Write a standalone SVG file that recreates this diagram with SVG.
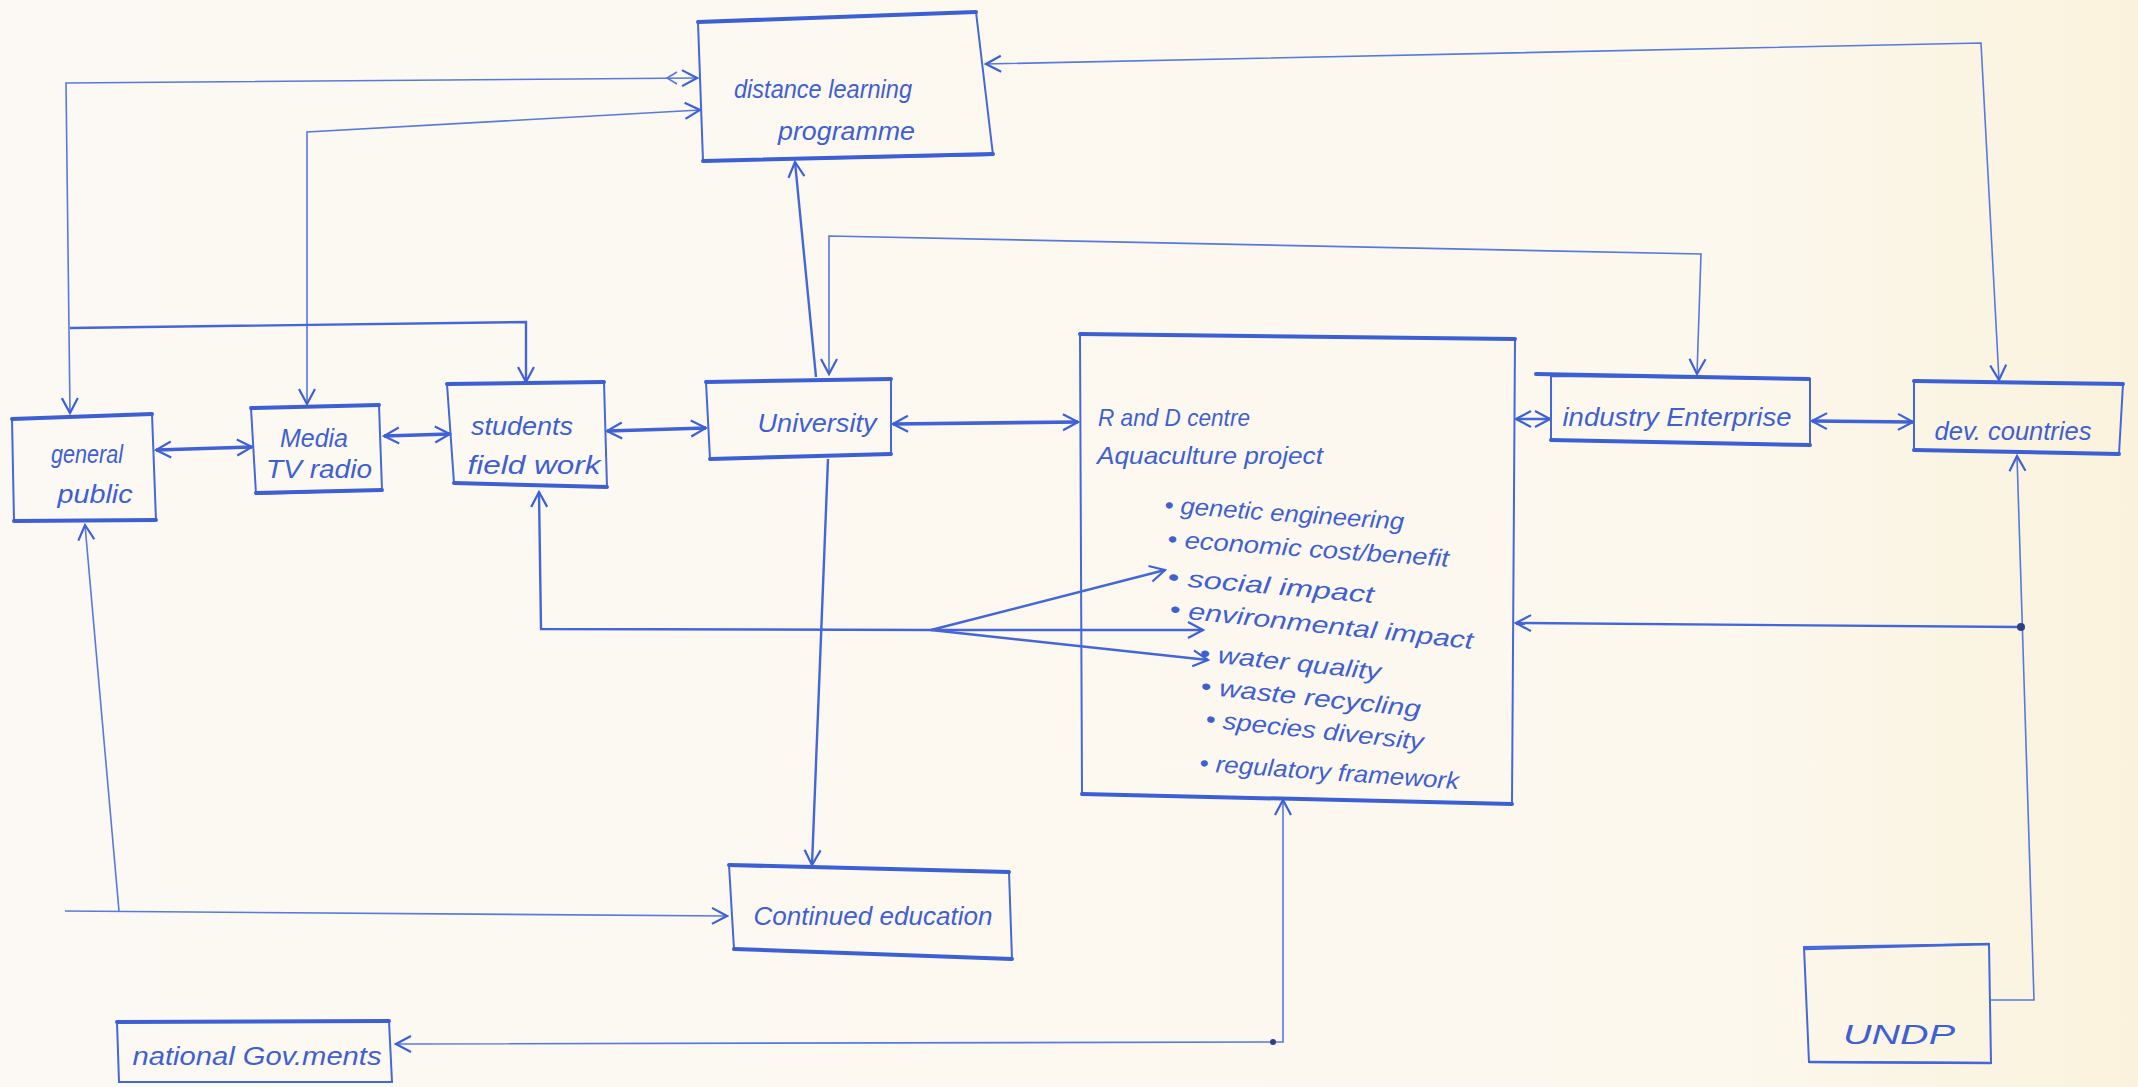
<svg xmlns="http://www.w3.org/2000/svg" width="2138" height="1087" viewBox="0 0 2138 1087">
<defs>
<linearGradient id="bg" x1="0" y1="0" x2="1" y2="0">
<stop offset="0" stop-color="#fcf9f4"/>
<stop offset="0.8" stop-color="#fcf8ee"/>
<stop offset="1" stop-color="#faf2dc"/>
</linearGradient>
<marker id="a" viewBox="0 0 20 20" refX="18" refY="10" markerWidth="20" markerHeight="20" markerUnits="userSpaceOnUse" orient="auto-start-reverse">
<path d="M3,2 L18,10 L3,18" fill="none" stroke="#3d60d6" stroke-width="2.2"/>
</marker>
<style>
.side{fill:none;stroke:#4567d8;stroke-width:2}
.edge{fill:none;stroke:#3d5fd4;stroke-width:4;stroke-linecap:round}
.thin{fill:none;stroke:#5779dd;stroke-width:1.6}
.mid{fill:none;stroke:#4466d8;stroke-width:2.4}
.thick{fill:none;stroke:#3f62d6;stroke-width:3.6}
text{font-family:"Liberation Sans","DejaVu Sans",sans-serif;font-style:italic;fill:#3f5fd2;font-size:25px}
.c{text-anchor:middle}
.l{font-size:24px}
</style>
</defs>
<rect width="2138" height="1087" fill="url(#bg)"/>

<g id="connectors">
<path class="thin" d="M697,78 L66,83 L70,413" marker-start="url(#a)" marker-end="url(#a)"/>
<path class="thin" d="M677,72 L667,78 L677,84"/>
<path class="thin" d="M700,110 L307,132 L307,404" marker-start="url(#a)" marker-end="url(#a)"/>
<path class="mid" d="M70,328 L526,322 L526,382" marker-end="url(#a)"/>
<path class="mid" d="M816,377 L795,162" marker-end="url(#a)"/>
<path class="thin" d="M829,374 L829,236 L1701,254 L1697,374" marker-start="url(#a)" marker-end="url(#a)"/>
<path class="thin" d="M986,64 L1981,43 L1999,380" marker-start="url(#a)" marker-end="url(#a)"/>
<path class="thick" d="M156,450 L252,447" marker-start="url(#a)" marker-end="url(#a)"/>
<path class="thick" d="M384,436 L450,434" marker-start="url(#a)" marker-end="url(#a)"/>
<path class="thick" d="M607,431 L706,428" marker-start="url(#a)" marker-end="url(#a)"/>
<path class="thick" d="M893,424 L1078,422" marker-start="url(#a)" marker-end="url(#a)"/>
<path class="mid" d="M1516,419 L1550,419" marker-start="url(#a)" marker-end="url(#a)"/>
<path class="thick" d="M1812,421 L1913,422" marker-start="url(#a)" marker-end="url(#a)"/>
<path class="mid" d="M828,459 L812,865" marker-end="url(#a)"/>
<path class="thin" d="M65,911 L727,916" marker-end="url(#a)"/>
<path class="thin" d="M119,911 L85,525" marker-end="url(#a)"/>
<path class="mid" d="M931,630 L541,629 L539,492" marker-end="url(#a)"/>
<path class="mid" d="M931,630 L1165,570" marker-end="url(#a)"/>
<path class="mid" d="M931,630 L1203,630" marker-end="url(#a)"/>
<path class="mid" d="M931,630 L1208,660" marker-end="url(#a)"/>
<path class="thin" d="M1991,1000 L2034,1000 L2017,456" marker-end="url(#a)"/>
<path class="mid" d="M2020,627 L1516,623" marker-end="url(#a)"/>
<circle cx="2021" cy="627" r="4" fill="#2d3f8a"/>
<path class="thin" d="M1283,800 L1283,1042 L396,1044" marker-start="url(#a)" marker-end="url(#a)"/>
<circle cx="1273" cy="1042" r="3" fill="#2d3f8a"/>
</g>

<g id="distance-learning">
<polygon class="side" points="698,22 976,12 993,155 703,161"/>
<path class="edge" d="M698,22 L976,12 M703,161 L993,154"/>
<text x="734" y="98" textLength="178" lengthAdjust="spacingAndGlyphs">distance learning</text>
<text x="778" y="140" textLength="137" lengthAdjust="spacingAndGlyphs">programme</text>
</g>

<g id="general-public">
<polygon class="side" points="12,419 152,414 156,520 14,521"/>
<path class="edge" d="M12,419 L152,414 M14,521 L156,520"/>
<text class="c" x="87" y="463" textLength="72" lengthAdjust="spacingAndGlyphs">general</text>
<text class="c" x="95" y="503" textLength="75" lengthAdjust="spacingAndGlyphs">public</text>
</g>

<g id="media">
<polygon class="side" points="251,408 379,405 382,490 256,494"/>
<path class="edge" d="M251,408 L379,405 M256,493 L382,490"/>
<text class="c" x="314" y="447" textLength="68" lengthAdjust="spacingAndGlyphs">Media</text>
<text class="c" x="319" y="478" textLength="106" lengthAdjust="spacingAndGlyphs">TV radio</text>
</g>

<g id="students">
<polygon class="side" points="447,384 604,382 607,487 454,483"/>
<path class="edge" d="M447,384 L604,382 M454,483 L607,487"/>
<text class="c" x="522" y="435" textLength="102" lengthAdjust="spacingAndGlyphs">students</text>
<text class="c" x="534" y="474" textLength="133" lengthAdjust="spacingAndGlyphs">field work</text>
</g>

<g id="university">
<polygon class="side" points="706,382 891,379 891,454 710,459"/>
<path class="edge" d="M706,382 L891,379 M710,459 L891,454"/>
<text class="c" x="817" y="432" textLength="119" lengthAdjust="spacingAndGlyphs">University</text>
</g>

<g id="rd-centre">
<polygon class="side" points="1080,334 1515,339 1512,804 1082,794"/>
<path class="edge" d="M1080,334 L1515,339 M1082,794 L1512,804"/>
<text class="l" x="1098" y="426" textLength="152" lengthAdjust="spacingAndGlyphs">R and D centre</text>
<text class="l" x="1097" y="464" textLength="226" lengthAdjust="spacingAndGlyphs">Aquaculture project</text>
<text class="l" x="1164" y="513" textLength="240" lengthAdjust="spacingAndGlyphs" transform="rotate(4 1164 513)">• genetic engineering</text>
<text class="l" x="1167" y="547" textLength="282" lengthAdjust="spacingAndGlyphs" transform="rotate(4 1167 547)">• economic cost/benefit</text>
<text class="l" x="1167" y="585" textLength="207" lengthAdjust="spacingAndGlyphs" transform="rotate(5 1167 585)">• social impact</text>
<text class="l" x="1169" y="617" textLength="305" lengthAdjust="spacingAndGlyphs" transform="rotate(6 1169 617)">• environmental impact</text>
<text class="l" x="1199" y="661" textLength="182" lengthAdjust="spacingAndGlyphs" transform="rotate(6 1199 661)">• water quality</text>
<text class="l" x="1200" y="694" textLength="221" lengthAdjust="spacingAndGlyphs" transform="rotate(6 1200 694)">• waste recycling</text>
<text class="l" x="1205" y="727" textLength="219" lengthAdjust="spacingAndGlyphs" transform="rotate(6 1205 727)">• species diversity</text>
<text class="l" x="1199" y="771" textLength="260" lengthAdjust="spacingAndGlyphs" transform="rotate(4 1199 771)">• regulatory framework</text>
</g>

<g id="industry-enterprise">
<polygon class="side" points="1551,376 1810,379 1810,445 1551,440"/>
<path class="edge" d="M1536,374 L1809,379 M1551,440 L1810,445"/>
<text class="c" x="1677" y="426" textLength="229" lengthAdjust="spacingAndGlyphs">industry Enterprise</text>
</g>

<g id="dev-countries">
<polygon class="side" points="1914,381 2123,384 2119,454 1914,450"/>
<path class="edge" d="M1914,381 L2123,384 M1914,450 L2119,454"/>
<text class="c" x="2013" y="440" textLength="157" lengthAdjust="spacingAndGlyphs">dev. countries</text>
</g>

<g id="continued-education">
<polygon class="side" points="729,865 1009,872 1012,959 734,949"/>
<path class="edge" d="M729,865 L1009,872 M734,949 L1012,959"/>
<text class="c" x="873" y="925" textLength="239" lengthAdjust="spacingAndGlyphs">Continued education</text>
</g>

<g id="national-govments">
<polygon class="side" points="117,1022 389,1021 392,1082 119,1082"/>
<path class="edge" d="M117,1022 L389,1021"/>
<text class="c" x="257" y="1065" textLength="249" lengthAdjust="spacingAndGlyphs">national Gov.ments</text>
</g>

<g id="undp">
<polygon class="side" points="1804,947 1989,944 1991,1063 1809,1062"/>
<path class="mid" d="M1804,949 L1989,944 M1809,1062 L1991,1063"/>
<text class="c" x="1899" y="1044" textLength="112" lengthAdjust="spacingAndGlyphs" style="font-size:28px">UNDP</text>
</g>
</svg>
